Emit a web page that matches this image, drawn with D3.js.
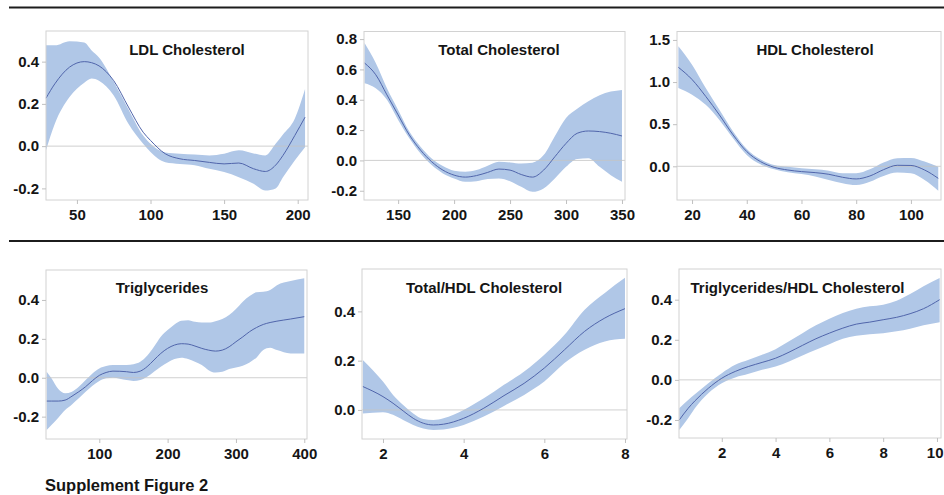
<!DOCTYPE html>
<html>
<head>
<meta charset="utf-8">
<script src="https://cdn.jsdelivr.net/npm/d3@7"></script>
<style>
  body { margin: 0; background: #fff; }
  svg { display: block; font-family: "Liberation Sans", Arial, sans-serif; }
</style>
</head>
<body>
<script>
// LDL Cholesterol
const ldlX   = [29, 35, 45, 55, 60, 65, 75, 85, 95, 100, 110, 120, 130, 140, 150, 160, 170, 178, 185, 190, 198, 205];
const ldlFit = [0.227, 0.295, 0.374, 0.40, 0.395, 0.38, 0.31, 0.185, 0.066, 0.027, -0.036, -0.06, -0.068, -0.077, -0.084, -0.08, -0.107, -0.12, -0.09, -0.044, 0.05, 0.137];
const ldlHi  = [0.477, 0.477, 0.497, 0.49, 0.453, 0.42, 0.305, 0.175, 0.05, 0.011, -0.03, -0.036, -0.04, -0.044, -0.036, -0.02, -0.035, -0.044, 0.011, 0.055, 0.13, 0.27];
const ldlLo  = [-0.02, 0.106, 0.232, 0.30, 0.32, 0.31, 0.24, 0.106, 0.011, -0.028, -0.076, -0.084, -0.09, -0.107, -0.123, -0.147, -0.178, -0.21, -0.20, -0.147, -0.068, -0.005];

// Total Cholesterol
const tcX   = [120, 130, 140, 150, 160, 170, 180, 190, 200, 210, 220, 230, 240, 250, 260, 270, 280, 290, 300, 310, 320, 330, 340, 350];
const tcFit = [0.642, 0.565, 0.432, 0.30, 0.168, 0.068, -0.009, -0.064, -0.097, -0.11, -0.10, -0.079, -0.057, -0.064, -0.093, -0.11, -0.064, 0.024, 0.112, 0.179, 0.194, 0.19, 0.179, 0.161];
const tcHi  = [0.774, 0.642, 0.476, 0.333, 0.19, 0.09, 0.013, -0.037, -0.068, -0.075, -0.064, -0.035, -0.009, -0.013, -0.02, -0.015, 0.035, 0.16, 0.28, 0.34, 0.39, 0.43, 0.454, 0.465];
const tcLo  = [0.509, 0.476, 0.40, 0.267, 0.146, 0.046, -0.031, -0.086, -0.119, -0.141, -0.137, -0.123, -0.119, -0.137, -0.174, -0.207, -0.185, -0.119, -0.042, 0.01, 0.015, -0.042, -0.097, -0.141];

// HDL Cholesterol
const hdlX   = [15, 20, 25, 30, 35, 40, 45, 50, 55, 60, 65, 70, 75, 80, 85, 90, 95, 100, 105, 110];
const hdlFit = [1.175, 1.03, 0.83, 0.61, 0.373, 0.175, 0.056, -0.012, -0.044, -0.063, -0.075, -0.095, -0.13, -0.15, -0.115, -0.04, 0.012, 0.01, -0.044, -0.143];
const hdlHi  = [1.425, 1.206, 0.929, 0.67, 0.413, 0.206, 0.083, 0.016, -0.005, -0.024, -0.035, -0.052, -0.083, -0.083, -0.036, 0.044, 0.095, 0.1, 0.056, -0.004];
const hdlLo  = [0.929, 0.85, 0.73, 0.55, 0.333, 0.135, 0.024, -0.036, -0.07, -0.091, -0.12, -0.163, -0.2, -0.222, -0.183, -0.115, -0.075, -0.083, -0.163, -0.29];

// Triglycerides
const tgX   = [23, 30, 40, 50, 60, 70, 80, 90, 100, 110, 120, 140, 150, 160, 170, 180, 190, 200, 210, 220, 230, 240, 250, 260, 270, 280, 290, 300, 310, 320, 330, 340, 350, 360, 380, 400];
const tgFit = [-0.12, -0.12, -0.12, -0.115, -0.095, -0.072, -0.046, -0.015, 0.012, 0.027, 0.034, 0.031, 0.027, 0.034, 0.057, 0.091, 0.125, 0.151, 0.168, 0.175, 0.173, 0.163, 0.151, 0.142, 0.137, 0.142, 0.159, 0.185, 0.21, 0.237, 0.258, 0.274, 0.284, 0.291, 0.302, 0.314];
const tgHi  = [0.031, -0.003, -0.058, -0.08, -0.072, -0.046, -0.012, 0.022, 0.048, 0.06, 0.065, 0.065, 0.069, 0.082, 0.113, 0.159, 0.211, 0.245, 0.274, 0.293, 0.296, 0.288, 0.284, 0.284, 0.291, 0.302, 0.322, 0.353, 0.391, 0.42, 0.439, 0.442, 0.451, 0.476, 0.497, 0.511];
const tgLo  = [-0.269, -0.243, -0.206, -0.166, -0.137, -0.106, -0.072, -0.041, -0.017, -0.003, 0, -0.012, -0.017, -0.012, 0.005, 0.031, 0.057, 0.079, 0.096, 0.103, 0.096, 0.082, 0.065, 0.039, 0.027, 0.031, 0.045, 0.053, 0.062, 0.079, 0.103, 0.142, 0.154, 0.142, 0.125, 0.125];

// Total/HDL Cholesterol
const ratioX   = [1.5, 2, 2.25, 2.5, 2.75, 3, 3.25, 3.5, 4, 4.5, 5, 5.5, 6, 6.5, 7, 7.5, 8];
const ratioFit = [0.095, 0.054, 0.027, -0.004, -0.034, -0.054, -0.061, -0.058, -0.034, 0.007, 0.058, 0.108, 0.17, 0.244, 0.319, 0.373, 0.411];
const ratioHi  = [0.203, 0.115, 0.061, 0.02, -0.014, -0.037, -0.041, -0.034, 0, 0.047, 0.102, 0.156, 0.224, 0.305, 0.407, 0.475, 0.536];
const ratioLo  = [-0.014, -0.009, -0.02, -0.041, -0.061, -0.075, -0.081, -0.079, -0.061, -0.027, 0.016, 0.061, 0.115, 0.19, 0.244, 0.278, 0.289];

// Triglycerides/HDL Cholesterol
const tghX   = [0.42, 0.75, 1, 1.5, 2, 2.5, 3, 3.5, 4, 4.5, 5, 5.5, 6, 6.5, 7, 7.5, 8, 8.5, 9, 9.5, 10.1];
const tghFit = [-0.2, -0.142, -0.105, -0.042, 0.008, 0.042, 0.067, 0.087, 0.108, 0.138, 0.172, 0.205, 0.233, 0.258, 0.278, 0.288, 0.30, 0.312, 0.33, 0.355, 0.40];
const tghHi  = [-0.142, -0.1, -0.072, -0.017, 0.033, 0.075, 0.1, 0.125, 0.153, 0.192, 0.233, 0.272, 0.305, 0.333, 0.355, 0.367, 0.375, 0.395, 0.428, 0.467, 0.508];
const tghLo  = [-0.25, -0.192, -0.142, -0.067, -0.017, 0.012, 0.03, 0.05, 0.067, 0.092, 0.122, 0.15, 0.178, 0.205, 0.22, 0.228, 0.233, 0.242, 0.255, 0.272, 0.288];

// tick labels
const ldlXTicks = [50, 100, 150, 200],      ldlYTicks = [-0.2, 0, 0.2, 0.4];
const tcXTicks  = [150, 200, 250, 300, 350], tcYTicks  = [-0.2, 0, 0.2, 0.4, 0.6, 0.8];
const hdlXTicks = [20, 40, 60, 80, 100],     hdlYTicks = [0, 0.5, 1, 1.5];
const tgXTicks  = [100, 200, 300, 400],      tgYTicks  = [-0.2, 0, 0.2, 0.4];
const ratioXTicks = [2, 4, 6, 8],            ratioYTicks = [0, 0.2, 0.4];
const tghXTicks = [2, 4, 6, 8, 10],          tghYTicks = [-0.2, 0, 0.2, 0.4];

const titles = ["LDL Cholesterol", "Total Cholesterol", "HDL Cholesterol",
                "Triglycerides", "Total/HDL Cholesterol", "Triglycerides/HDL Cholesterol"];

const panels = [
  {title: titles[0], xs: ldlX, fit: ldlFit, hi: ldlHi, lo: ldlLo, xt: ldlXTicks, yt: ldlYTicks,
   xDom: [29, 207], yDom: [-0.255, 0.545], box: [46, 308, 31, 200], tx: 187, ty: 55},
  {title: titles[1], xs: tcX, fit: tcFit, hi: tcHi, lo: tcLo, xt: tcXTicks, yt: tcYTicks,
   xDom: [119.5, 352.7], yDom: [-0.261, 0.85], box: [364, 625, 31.5, 200], tx: 499, ty: 55},
  {title: titles[2], xs: hdlX, fit: hdlFit, hi: hdlHi, lo: hdlLo, xt: hdlXTicks, yt: hdlYTicks,
   xDom: [14.5, 111], yDom: [-0.4, 1.6], box: [677, 941, 31.5, 200], tx: 815, ty: 55},
  {title: titles[3], xs: tgX, fit: tgFit, hi: tgHi, lo: tgLo, xt: tgXTicks, yt: tgYTicks,
   xDom: [22, 404], yDom: [-0.315, 0.554], box: [46, 307, 270, 439], tx: 162, ty: 292.5},
  {title: titles[4], xs: ratioX, fit: ratioFit, hi: ratioHi, lo: ratioLo, xt: ratioXTicks, yt: ratioYTicks,
   xDom: [1.48, 8.05], yDom: [-0.118, 0.572], box: [362, 627, 269, 439], tx: 484, ty: 292.5},
  {title: titles[5], xs: tghX, fit: tghFit, hi: tghHi, lo: tghLo, xt: tghXTicks, yt: tghYTicks,
   xDom: [0.41, 10.15], yDom: [-0.29, 0.553], box: [679, 941, 269, 438], tx: 797.5, ty: 292.5}
];

const W = 944, H = 495;
const svg = d3.select("body").append("svg")
  .attr("width", W)
  .attr("height", H);

// horizontal rules between rows
[7.5, 241].forEach(yy => {
  svg.append("line")
    .attr("x1", 9).attr("x2", W)
    .attr("y1", yy).attr("y2", yy)
    .attr("stroke", "#1c1c1c")
    .attr("stroke-width", 2);
});

function drawPanel(p) {
  const [left, right, top, bottom] = p.box;
  const x = d3.scaleLinear().domain(p.xDom).range([left, right]);
  const y = d3.scaleLinear().domain(p.yDom).range([bottom, top]);
  const idx = d3.range(p.xs.length);
  const g = svg.append("g");

  // confidence band
  g.append("path")
    .datum(idx)
    .attr("fill", "#b0c7e7")
    .attr("d", d3.area()
      .x(i => x(p.xs[i]))
      .y0(i => y(p.lo[i]))
      .y1(i => y(p.hi[i]))
      .curve(d3.curveMonotoneX));

  // zero reference
  g.append("line")
    .attr("x1", left).attr("x2", right)
    .attr("y1", y(0)).attr("y2", y(0))
    .attr("stroke", "#c4c4c4")
    .attr("stroke-opacity", 0.8);

  // fitted curve
  g.append("path")
    .datum(idx)
    .attr("fill", "none")
    .attr("stroke", "#5065ab")
    .attr("stroke-width", 1)
    .attr("d", d3.line()
      .x(i => x(p.xs[i]))
      .y(i => y(p.fit[i]))
      .curve(d3.curveMonotoneX));

  // frame
  g.append("rect")
    .attr("x", left).attr("y", top)
    .attr("width", right - left).attr("height", bottom - top)
    .attr("fill", "none")
    .attr("stroke", "#d2d2d2");

  // axes
  const yAxis = g.append("g")
    .attr("transform", `translate(${left},0)`)
    .call(d3.axisLeft(y).tickValues(p.yt).tickSize(4).tickPadding(3)
      .tickFormat(d => d.toFixed(1)));
  const xAxis = g.append("g")
    .attr("transform", `translate(0,${bottom})`)
    .call(d3.axisBottom(x).tickValues(p.xt).tickSize(4).tickPadding(5)
      .tickFormat(d => String(d)));

  [yAxis, xAxis].forEach(a => {
    a.select(".domain").remove();
    a.selectAll(".tick line").attr("stroke", "#c0c0c0");
    a.selectAll(".tick text")
      .attr("fill", "#151515")
      .style("font-size", "15px")
      .style("font-weight", "bold")
      .style("font-family", "'Liberation Sans', Arial, sans-serif");
  });

  // keep labels at the page edge inside the window
  xAxis.selectAll(".tick text").each(function(d) {
    const w = this.getComputedTextLength();
    const over = x(d) + w / 2 - (W - 1);
    if (over > 0) d3.select(this).attr("dx", -over);
  });

  g.append("text")
    .attr("x", p.tx).attr("y", p.ty)
    .attr("text-anchor", "middle")
    .attr("fill", "#151515")
    .style("font-size", "15px")
    .style("font-weight", "bold")
    .text(p.title);
}

panels.forEach(drawPanel);

svg.append("text")
  .attr("x", 45).attr("y", 491)
  .attr("fill", "#151515")
  .style("font-size", "16.5px")
  .style("font-weight", "bold")
  .text("Supplement Figure 2");
</script>
</body>
</html>
